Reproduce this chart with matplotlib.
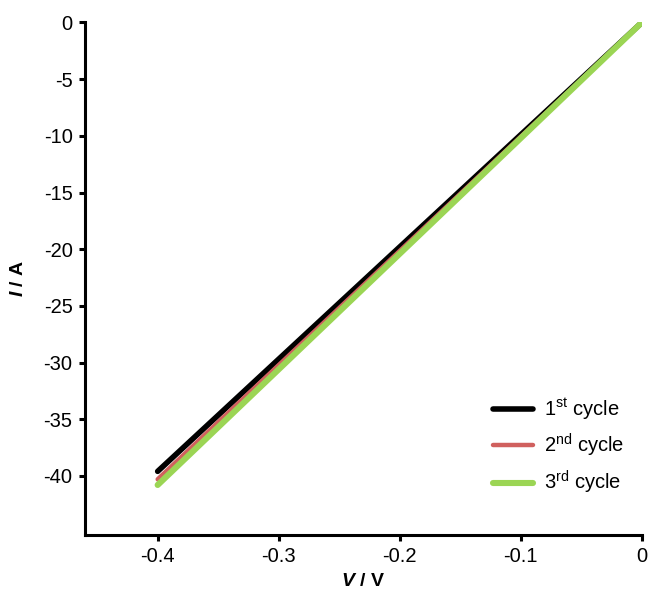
# Courbes I-V sur trois cycles

import numpy as np
import matplotlib.pyplot as plt

plt.rcParams['font.family'] = ['Liberation Sans', 'DejaVu Sans']
plt.rcParams['mathtext.fontset'] = 'custom'
plt.rcParams['mathtext.rm'] = 'Liberation Sans'
plt.rcParams['mathtext.it'] = 'Liberation Sans:italic'
plt.rcParams['mathtext.bf'] = 'Liberation Sans:bold'
plt.rcParams['mathtext.bfit'] = 'Liberation Sans:bold:italic'

# tension balayée et courant mesuré pour chaque cycle
tension = [-0.4, 0.0]
courant_1 = [-39.6, 0.0]
courant_2 = [-40.3, 0.0]
courant_3 = [-40.8, 0.0]
cycles = ['1$^{\\rm st}$ cycle', '2$^{\\rm nd}$ cycle', '3$^{\\rm rd}$ cycle']
couleurs = ['#000000', '#d0605e', '#9bd554']

fig = plt.figure(figsize=(6.49, 5.91), dpi=100)
ax = fig.add_axes([0.131, 0.095, 0.858, 0.867])

ax.plot(tension, courant_1, color=couleurs[0], lw=4.0, solid_capstyle='round', label=cycles[0])
ax.plot(tension, courant_2, color=couleurs[1], lw=3.2, solid_capstyle='round', label=cycles[1])
ax.plot(tension, courant_3, color=couleurs[2], lw=4.4, solid_capstyle='round', label=cycles[2])

ax.set_xlim(-0.46, 0)
ax.set_ylim(-45.2, 0)
ax.set_xticks([-0.4, -0.3, -0.2, -0.1, 0])
ax.set_xticklabels(['-0.4', '-0.3', '-0.2', '-0.1', '0'])
ax.set_yticks(np.arange(-40, 1, 5))
ax.set_yticklabels([str(v) for v in range(-40, 1, 5)])

for s in ['top', 'right']:
    ax.spines[s].set_visible(False)
for s in ['left', 'bottom']:
    ax.spines[s].set_linewidth(2.2)
ax.tick_params(direction='out', length=4, width=2.2, labelsize=14.5, pad=5)

ax.set_xlabel('$\\mathbfit{V}$ / V', fontsize=14, fontweight='bold', labelpad=5)
ax.set_ylabel('$\\mathbfit{I}$ / A', fontsize=14, fontweight='bold', labelpad=12)

ax.legend(loc='lower right', frameon=False, fontsize=14.5, handlelength=2.0,
          handletextpad=0.5, labelspacing=0.5, bbox_to_anchor=(1.0, 0.04))

plt.savefig('out.png', dpi=100)
